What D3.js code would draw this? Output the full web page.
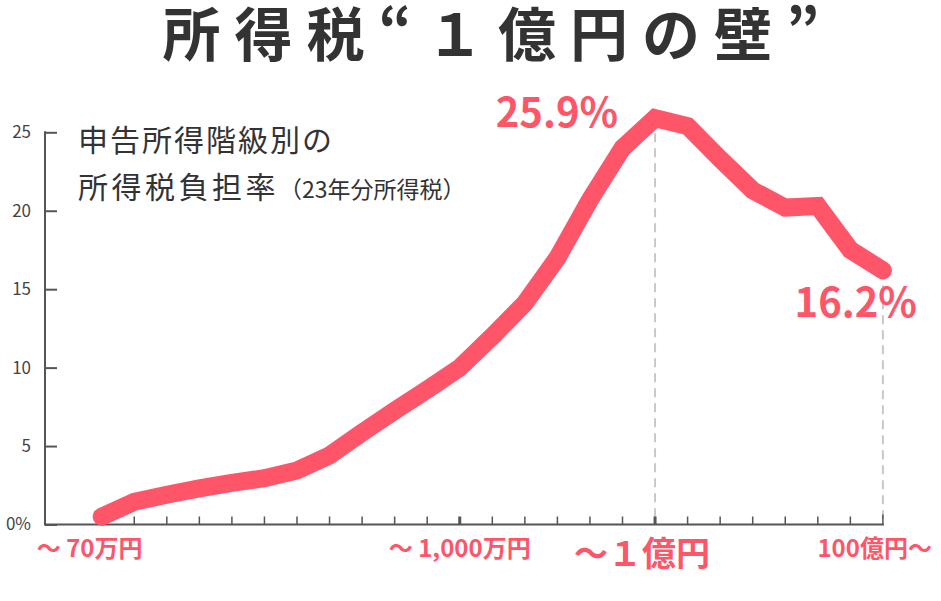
<!DOCTYPE html>
<html lang="ja">
<head>
<meta charset="utf-8">
<script src="https://cdn.jsdelivr.net/npm/d3@7"></script>
<style>
  html, body { margin: 0; padding: 0; background: #fff; }
  svg { display: block; font-family: "Noto Sans CJK JP", "Noto Sans", sans-serif; }
</style>
</head>
<body>
<svg id="chart" width="941" height="601"></svg>
<script>
// ---- data ----
const categories = ["～70万円","～100万円","～150万円","～200万円","～250万円","～300万円","～400万円","～500万円","～600万円","～700万円","～800万円","～1,000万円","～1,200万円","～1,500万円","～2,000万円","～3,000万円","～5,000万円","～1億円","～2億円","～5億円","～10億円","～20億円","～50億円","～100億円","100億円～"];
const taxRate = [0.5,1.45,1.9,2.3,2.65,2.95,3.45,4.4,5.85,7.25,8.6,10.0,12.0,14.1,17.0,20.7,24.0,25.9,25.4,23.3,21.3,20.2,20.3,17.5,16.2];
const yTicks = [0,5,10,15,20,25];
const yTickLabels = ["0%","5","10","15","20","25"];
const xLabelIdx = [0, 11, 17, 24];
const xLabelText = ["～ 70万円","～ 1,000万円","～１億円","100億円～"];
const peakIdx = 17, lastIdx = 24;
const title = "所得税“１億円の壁”";
const subtitle1 = "申告所得階級別の";
const subtitle2 = "所得税負担率";
const subtitle3 = "（23年分所得税）";

const PINK = "#ff5569", AXIS = "#555", TXT = "#333";

const svg = d3.select("#chart");
const x = d3.scalePoint().domain(d3.range(categories.length)).range([101.7, 882.9]);
const y = d3.scaleLinear().domain([0, 25]).range([524.5, 132.3]);
const axisX0 = 45;

// title
svg.append("text").attr("x", 498).attr("y", 56).attr("text-anchor", "middle")
  .attr("font-size", 58).attr("font-weight", 700).attr("letter-spacing", 14)
  .attr("fill", TXT).text(title);

// subtitle
svg.append("text").attr("x", 78).attr("y", 151).attr("font-size", 30).attr("letter-spacing", 2)
  .attr("fill", TXT).text(subtitle1);
const st2 = svg.append("text").attr("x", 78).attr("y", 198).attr("fill", TXT);
st2.append("tspan").attr("font-size", 30).attr("letter-spacing", 3.5).text(subtitle2);
st2.append("tspan").attr("font-size", 23).text(subtitle3);

// dashed reference lines
[peakIdx, lastIdx].forEach(i => {
  svg.append("line").attr("x1", x(i)).attr("x2", x(i))
    .attr("y1", y(taxRate[i])).attr("y2", y(0))
    .attr("stroke", "#c8c8c8").attr("stroke-width", 2).attr("stroke-dasharray", "9,6");
});

// y axis
const yAxis = d3.axisRight(y).tickValues(yTicks).tickSize(12).tickFormat("");
const gy = svg.append("g").attr("transform", `translate(${axisX0},0)`).call(yAxis);
gy.select(".domain").remove();
gy.selectAll(".tick line").attr("stroke", AXIS).attr("stroke-width", 2);
gy.append("line").attr("x1", 0).attr("x2", 0).attr("y1", y(25) - 1).attr("y2", y(0))
  .attr("stroke", AXIS).attr("stroke-width", 2);
svg.append("g").selectAll("text").data(yTicks).join("text")
  .attr("x", 31).attr("y", d => y(d)).attr("dy", "0.35em").attr("text-anchor", "end")
  .attr("font-size", 17).attr("fill", "#444").text((d, i) => yTickLabels[i]);

// x axis
svg.append("line").attr("x1", axisX0 - 1).attr("x2", x(lastIdx) + 1).attr("y1", y(0)).attr("y2", y(0))
  .attr("stroke", AXIS).attr("stroke-width", 2);
svg.append("g").selectAll("line").data(d3.range(1, categories.length)).join("line")
  .attr("x1", d => x(d)).attr("x2", d => x(d))
  .attr("y1", y(0)).attr("y2", d => d === lastIdx ? y(0) - 10 : y(0) - 8)
  .attr("stroke", AXIS).attr("stroke-width", d => (d === 11 || d === 17) ? 3 : 1.5);

// x labels
const xl = svg.append("g").attr("fill", PINK).attr("font-weight", 700);
xl.append("text").attr("x", x(0) - 65).attr("y", 557).attr("font-size", 24).text(xLabelText[0]);
xl.append("text").attr("x", x(11) - 71).attr("y", 557).attr("font-size", 24).text(xLabelText[1]);
xl.append("text").attr("x", x(17) - 81).attr("y", 566).attr("font-size", 34).text(xLabelText[2]);
xl.append("text").attr("x", x(24) + 49).attr("y", 557).attr("text-anchor", "end").attr("font-size", 24).text(xLabelText[3]);

// line
const line = d3.line().x((d, i) => x(i)).y(d => y(d));
svg.append("path").datum(taxRate).attr("d", line)
  .attr("fill", "none").attr("stroke", PINK).attr("stroke-width", 18)
  .attr("stroke-linecap", "round").attr("stroke-linejoin", "miter");

// annotations
svg.append("text").attr("x", x(peakIdx) - 37).attr("y", 127).attr("text-anchor", "end")
  .attr("font-size", 40).attr("font-weight", 700).attr("fill", PINK).text(taxRate[peakIdx].toFixed(1) + "%");
svg.append("text").attr("x", x(lastIdx) + 34).attr("y", 317).attr("text-anchor", "end")
  .attr("font-size", 40).attr("font-weight", 700).attr("fill", PINK).text(taxRate[lastIdx].toFixed(1) + "%");
</script>
</body>
</html>
